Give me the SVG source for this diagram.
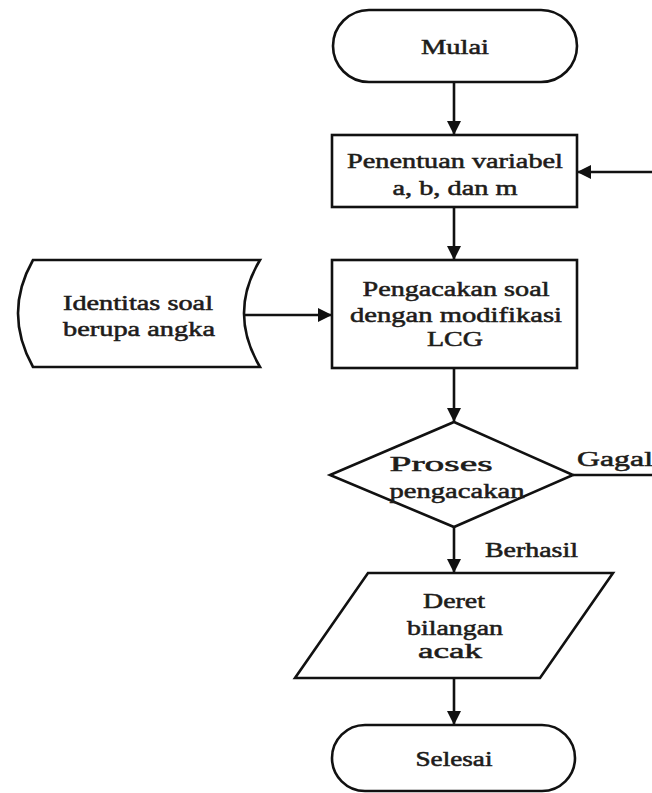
<svg xmlns="http://www.w3.org/2000/svg" width="652" height="793" viewBox="0 0 652 793">
  <style>
    .shape { fill: #ffffff; stroke: #111111; stroke-width: 2.6; }
    .conn { fill: none; stroke: #111111; stroke-width: 2.6; }
    .t { font-family: 'Liberation Serif', 'Times New Roman', Times, serif; font-size: 22px; fill: #1e1c1a; stroke: #1e1c1a; stroke-width: 0.55; text-anchor: middle; }
    .lbl { text-anchor: start; }
  </style>
  <defs>
    <marker id="arrow" viewBox="0 0 14 14" refX="14" refY="7" markerWidth="14" markerHeight="14" markerUnits="userSpaceOnUse" orient="auto">
      <path d="M0,0 L14,7 L0,14 Z" fill="#111111"/>
    </marker>
  </defs>

  <rect width="652" height="793" fill="#ffffff"/>

  <!-- connectors -->
  <g id="connectors">
    <line class="conn" x1="454" y1="82" x2="454" y2="135" marker-end="url(#arrow)"/>
    <line class="conn" x1="454" y1="207" x2="454" y2="260" marker-end="url(#arrow)"/>
    <line class="conn" x1="241" y1="315" x2="332" y2="315" marker-end="url(#arrow)"/>
    <line class="conn" x1="454" y1="368" x2="454" y2="422" marker-end="url(#arrow)"/>
    <line class="conn" x1="454" y1="527" x2="454" y2="573" marker-end="url(#arrow)"/>
    <line class="conn" x1="454" y1="678" x2="454" y2="725" marker-end="url(#arrow)"/>
    <!-- failure loop back to the variable setup -->
    <line class="conn" x1="573" y1="475" x2="654" y2="475"/>
    <line class="conn" x1="654" y1="172" x2="577" y2="172" marker-end="url(#arrow)"/>
    <text class="t lbl" x="577" y="466" textLength="76" lengthAdjust="spacingAndGlyphs">Gagal</text>
    <text class="t lbl" x="485" y="557" textLength="93" lengthAdjust="spacingAndGlyphs">Berhasil</text>
  </g>

  <g id="mulai">
    <rect class="shape" x="333" y="10" width="244" height="72" rx="36" ry="36"/>
    <text class="t" x="455" y="54" textLength="68" lengthAdjust="spacingAndGlyphs">Mulai</text>
  </g>

  <g id="penentuan">
    <rect class="shape" x="332" y="135" width="245" height="72"/>
    <text class="t" x="455" y="168" textLength="216" lengthAdjust="spacingAndGlyphs">Penentuan variabel</text>
    <text class="t" x="455" y="195" textLength="125" lengthAdjust="spacingAndGlyphs">a, b, dan m</text>
  </g>

  <g id="identitas">
    <path class="shape" d="M33,260 L260,260 Q228,313 260,367 L33,367 Q3,313 33,260 Z"/>
    <text class="t" x="138" y="310" textLength="150" lengthAdjust="spacingAndGlyphs">Identitas soal</text>
    <text class="t" x="139" y="336" textLength="152" lengthAdjust="spacingAndGlyphs">berupa angka</text>
  </g>

  <g id="pengacakan">
    <rect class="shape" x="332" y="260" width="245" height="108"/>
    <text class="t" x="456" y="296" textLength="187" lengthAdjust="spacingAndGlyphs">Pengacakan soal</text>
    <text class="t" x="456" y="322" textLength="212" lengthAdjust="spacingAndGlyphs">dengan modifikasi</text>
    <text class="t" x="455" y="346" textLength="56" lengthAdjust="spacingAndGlyphs">LCG</text>
  </g>

  <g id="proses">
    <polygon class="shape" points="454,422 573,475 454,527 330,475"/>
    <text class="t" x="441" y="471" textLength="103" lengthAdjust="spacingAndGlyphs">Proses</text>
    <text class="t" x="457" y="498" textLength="135" lengthAdjust="spacingAndGlyphs">pengacakan</text>
  </g>

  <g id="deret">
    <polygon class="shape" points="368,573 613,573 540,678 295,678"/>
    <text class="t" x="454" y="608" textLength="62" lengthAdjust="spacingAndGlyphs">Deret</text>
    <text class="t" x="455" y="635" textLength="96" lengthAdjust="spacingAndGlyphs">bilangan</text>
    <text class="t" x="450" y="658" textLength="64" lengthAdjust="spacingAndGlyphs">acak</text>
  </g>

  <g id="selesai">
    <rect class="shape" x="332" y="725" width="243" height="66" rx="33" ry="33"/>
    <text class="t" x="454" y="766" textLength="77" lengthAdjust="spacingAndGlyphs">Selesai</text>
  </g>
</svg>
